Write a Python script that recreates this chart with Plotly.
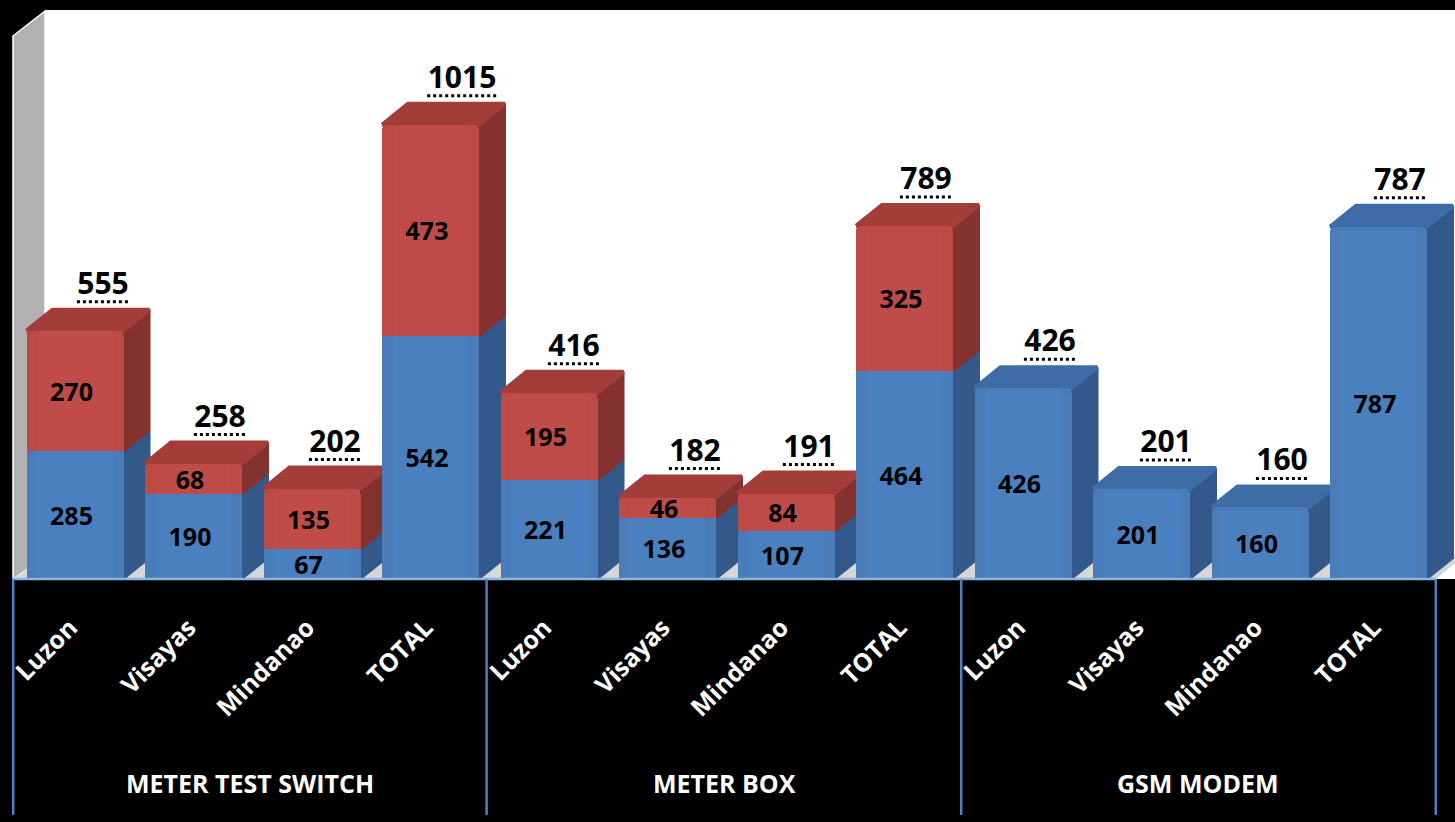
import plotly.graph_objects as go

categories = ["Luzon", "Visayas", "Mindanao", "TOTAL"] * 3
groups = ["METER TEST SWITCH", "METER BOX", "GSM MODEM"]
blue_values = [285, 190, 67, 542, 221, 136, 107, 464, 426, 201, 160, 787]
red_values = [270, 68, 135, 473, 195, 46, 84, 325, 0, 0, 0, 0]
totals = [555, 258, 202, 1015, 416, 182, 191, 789, 426, 201, 160, 787]

W, H = 1455, 822
L, R, T, B = 12, 0, 10, 243
STEP = 118.5
SCALE = 0.4475
X0 = 75.0
BAR_W = 97 / STEP
DX = 26 / STEP
DY = 21 / SCALE
x_range = [(L - X0) / STEP, (W - R - X0) / STEP]
y_range = [0, (H - T - B) / SCALE]

BLUE, BLUE_LIGHT, BLUE_SIDE, BLUE_TOP = "#497cb9", "#4b80c0", "#33598a", "#3e6ca6"
RED, RED_LIGHT, RED_SIDE, RED_TOP = "#bc4a47", "#c04c49", "#84322f", "#a33d3a"
label_shift = [28, 26.5, 23, 31.5, 25, 27.5, 23, 21.5, 27, 24.5, 22, 21.5]
value_shift = -3.5 / STEP


def px(x):
    return (x - L) / (W - L - R)


def py(y):
    return (H - B - y) / (H - T - B)


fig = go.Figure()


def poly(xs, ys, color, width=3):
    fig.add_trace(go.Scatter(
        x=xs + xs[:1], y=ys + ys[:1], mode="lines", fill="toself", fillcolor=color,
        line=dict(color=color, width=width), hoverinfo="skip", showlegend=False,
        xaxis="x", yaxis="y"))


for i, (b, r) in enumerate(zip(blue_values, red_values)):
    x1 = i + BAR_W / 2
    x0 = i - BAR_W / 2
    poly([x1, x1 + DX, x1 + DX, x1], [0, DY, b + DY, b], BLUE_SIDE, 2)
    if r:
        poly([x1, x1 + DX, x1 + DX, x1], [b, b + DY, b + r + DY, b + r], RED_SIDE, 2)
    top = b + r
    poly([x0, x1, x1 + DX, x0 + DX], [top, top, top + DY, top + DY], RED_TOP if r else BLUE_TOP, 4)

xs = list(range(len(categories)))
fig.add_trace(go.Bar(x=xs, y=blue_values, width=BAR_W, marker=dict(color=BLUE, line_width=0),
                     xaxis="x2", yaxis="y2", showlegend=False))
fig.add_trace(go.Bar(x=xs, y=red_values, width=BAR_W, marker=dict(color=RED, line_width=0),
                     xaxis="x2", yaxis="y2", showlegend=False))
fig.add_trace(go.Bar(x=xs, y=blue_values, width=BAR_W * 0.78, marker=dict(color=BLUE_LIGHT, line_width=0),
                     xaxis="x3", yaxis="y3", showlegend=False))
fig.add_trace(go.Bar(x=xs, y=red_values, width=BAR_W * 0.78, marker=dict(color=RED_LIGHT, line_width=0),
                     xaxis="x3", yaxis="y3", showlegend=False))

value_font = dict(family="Open Sans", size=25, color="black", weight=700)
VALUE_DY = -3.5 / SCALE
fig.add_trace(go.Scatter(
    x=[i + value_shift for i in xs], y=[v / 2 + VALUE_DY for v in blue_values],
    text=[str(v) for v in blue_values], mode="text", textfont=value_font,
    textposition="middle center", xaxis="x3", yaxis="y3", showlegend=False, hoverinfo="skip"))
red_idx = [i for i in xs if red_values[i]]
fig.add_trace(go.Scatter(
    x=[i + value_shift for i in red_idx],
    y=[blue_values[i] + red_values[i] / 2 + VALUE_DY for i in red_idx],
    text=[str(red_values[i]) for i in red_idx], mode="text", textfont=value_font,
    textposition="middle center", xaxis="x3", yaxis="y3", showlegend=False, hoverinfo="skip"))

GAP = 44.5 / SCALE
total_x = [i + label_shift[i] / STEP for i in xs]
fig.add_trace(go.Scatter(
    x=total_x, y=[t + GAP for t in totals], text=[str(t) for t in totals], mode="text",
    textfont=dict(family="Open Sans", size=30, color="black", weight=700),
    textposition="middle center", xaxis="x3", yaxis="y3", showlegend=False, hoverinfo="skip"))
for i, t in enumerate(totals):
    half = 8.7 * len(str(t)) / STEP
    fig.add_trace(go.Scatter(
        x=[total_x[i] - half, total_x[i] + half], y=[t + GAP - 15.5 / SCALE] * 2, mode="lines",
        line=dict(color="black", width=3, dash="3px,3px"), xaxis="x3", yaxis="y3",
        showlegend=False, hoverinfo="skip"))

shapes = [
    dict(type="path", xref="paper", yref="paper", layer="below", line_width=0, fillcolor="white",
         path=f"M{px(45)},{py(10)} L{px(1455)},{py(10)} L{px(1455)},{py(579)} L{px(45)},{py(579)} Z"),
    dict(type="path", xref="paper", yref="paper", layer="below", fillcolor="#b2b2b2",
         line=dict(color="white", width=1.5),
         path=f"M{px(13)},{py(36)} L{px(45)},{py(11)} L{px(45)},{py(557)} L{px(13)},{py(579)} Z"),
    dict(type="path", xref="paper", yref="paper", layer="below", line_width=0, fillcolor="#d6d6d6",
         path=f"M{px(13)},{py(579)} L{px(1436)},{py(579)} L{px(1462)},{py(557)} L{px(45)},{py(557)} Z"),
    dict(type="line", xref="paper", yref="paper", layer="above", x0=px(12), x1=px(1436), y0=py(579), y1=py(579),
         line=dict(color="#8db3e2", width=2.5)),
]
for k in range(4):
    sx = x_range[0] + 4 * k + 0.005 * k + (0.01 if k == 0 else 0)
    shapes.append(dict(type="line", xref="x", yref="paper", layer="above", x0=sx, x1=sx,
                       y0=py(579), y1=py(815), line=dict(color="#4f81bd", width=2.5)))

annotations = [
    dict(text=g, x=1.48 + 4 * k, xref="x", y=py(783), yref="paper", showarrow=False,
         xanchor="center", yanchor="middle",
         font=dict(family="Open Sans", size=25, color="white", weight=700))
    for k, g in enumerate(groups)
]

fig.update_layout(
    width=W, height=H, margin=dict(l=L, r=R, t=T, b=B),
    paper_bgcolor="black", plot_bgcolor="black", barmode="stack", barcornerradius=5,
    showlegend=False, shapes=shapes, annotations=annotations,
    xaxis=dict(range=x_range, tickmode="array", tickvals=[i - 0.04 for i in xs], ticktext=categories,
               tickangle=-45,
               tickfont=dict(family="Open Sans", size=25, color="white", weight=700),
               ticks="", showgrid=False, zeroline=False, showline=False, ticklabelstandoff=28),
    yaxis=dict(range=y_range, visible=False, showgrid=False, zeroline=False),
    xaxis2=dict(range=x_range, overlaying="x", visible=False, showgrid=False, zeroline=False),
    yaxis2=dict(range=y_range, overlaying="y", visible=False, showgrid=False, zeroline=False),
    xaxis3=dict(range=x_range, overlaying="x", visible=False, showgrid=False, zeroline=False),
    yaxis3=dict(range=y_range, overlaying="y", visible=False, showgrid=False, zeroline=False),
)

fig.write_html("out.html", config={"displayModeBar": False},
               post_script="document.body.style.margin='0';document.body.style.overflow='hidden';")
